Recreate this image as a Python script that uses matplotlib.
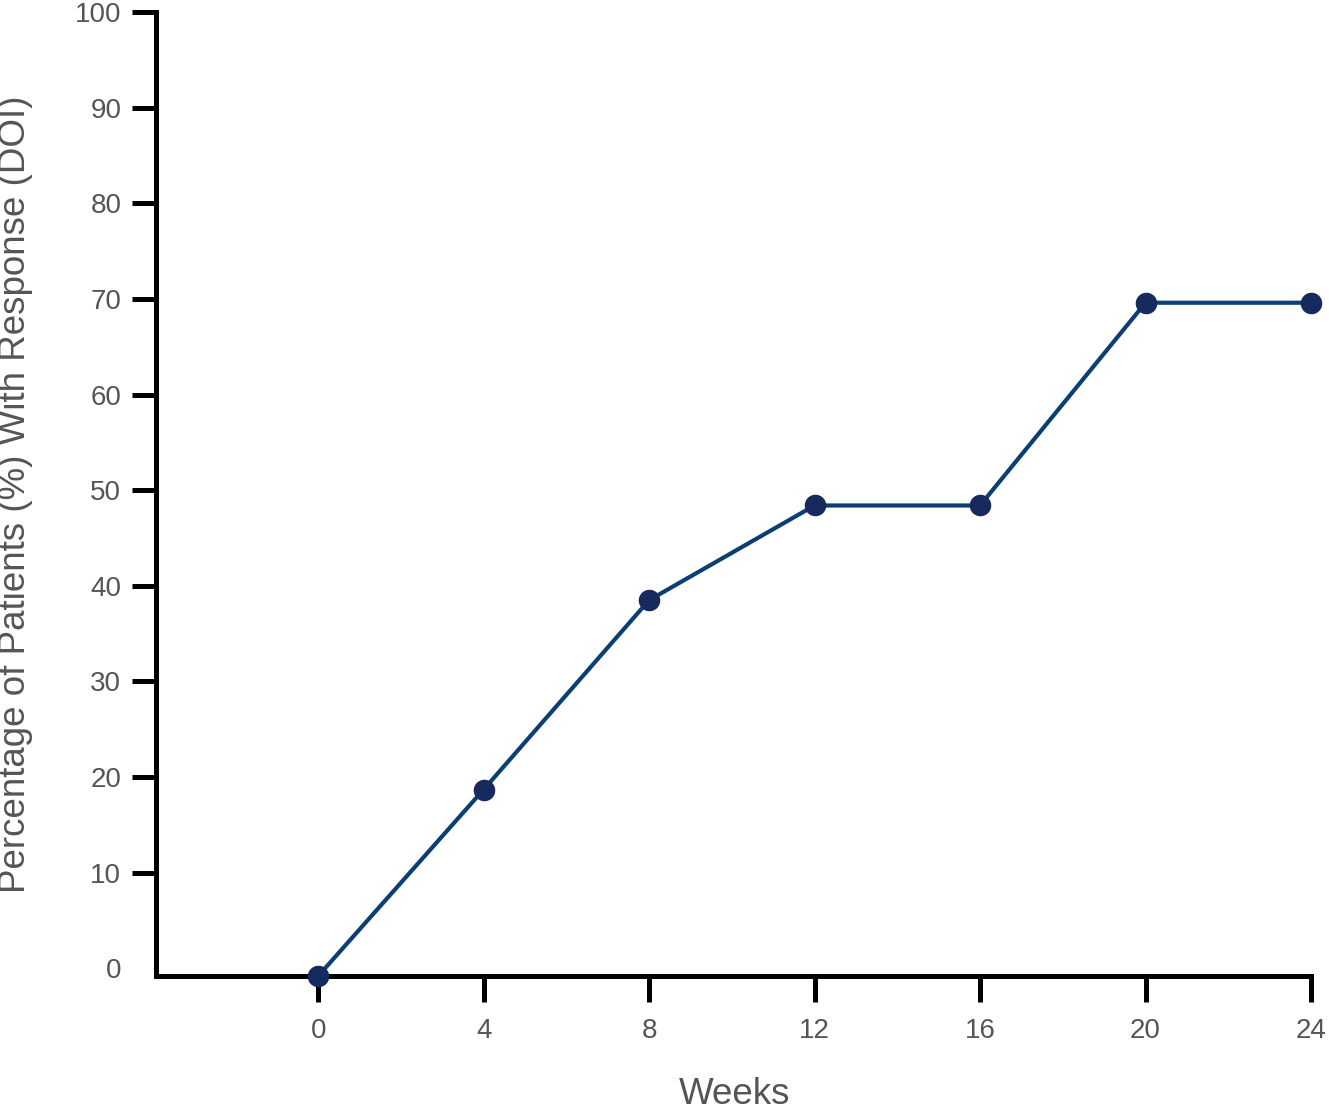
import matplotlib
matplotlib.use("Agg")
from matplotlib import pyplot as plt

# data
weeks = [0, 4, 8, 12, 16, 20, 24]
response_pct = [-0.8, 18.7, 38.5, 48.4, 48.4, 69.6, 69.6]
x_ticks = [0, 4, 8, 12, 16, 20, 24]
y_ticks = [0, 10, 20, 30, 40, 50, 60, 70, 80, 90, 100]

plt.rcParams['font.family'] = ['Liberation Sans', 'DejaVu Sans']
text_grey = "#555555"

fig = plt.figure(figsize=(13.29, 11.10), dpi=100)
ax = fig.add_axes([0.1174, 0.1207, 0.8706, 0.8685])

ax.plot(weeks, response_pct, '-', color="#0b3f73", linewidth=3.0, zorder=2, clip_on=False)
ax.plot(weeks, response_pct, 'o', color="#172a5e", markersize=14.5, zorder=3, clip_on=False)

ax.set_xlim(-3.92, 24.05)
ax.set_ylim(-0.8, 100)
ax.set_xticks(x_ticks)
ax.set_yticks(y_ticks)

for side in ["top", "right"]:
    ax.spines[side].set_visible(False)
for side in ["left", "bottom"]:
    ax.spines[side].set_linewidth(3.6)
    ax.spines[side].set_color("black")
    ax.spines[side].set_capstyle("projecting")
ax.spines["bottom"].set_bounds(-3.92, 24.0)

ax.tick_params(axis="x", length=19, width=3.6, color="black", pad=11,
               labelsize=20, labelcolor=text_grey)
ax.tick_params(axis="y", length=17, width=3.6, color="black", pad=8,
               labelsize=20, labelcolor=text_grey)
# the 0 tick on y has no visible mark in the reference
ax.yaxis.get_major_ticks()[0].tick1line.set_visible(False)

ax.set_xlabel("Weeks", fontsize=26.5, color=text_grey, labelpad=24)
ax.set_ylabel("Percentage of Patients (%) With Response (DOI)", fontsize=26.5,
              color=text_grey)
ax.yaxis.set_label_coords(-0.106, 0.5)

fig.savefig("out.png", dpi=100)
